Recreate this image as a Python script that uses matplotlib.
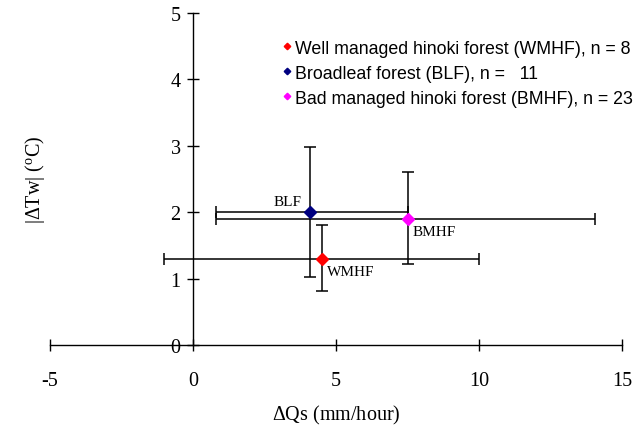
import matplotlib
matplotlib.use("Agg")
import matplotlib.pyplot as plt

plt.rcParams['font.family'] = ['Liberation Serif', 'DejaVu Serif']
plt.rcParams['mathtext.fontset'] = 'custom'
plt.rcParams['mathtext.rm'] = 'Liberation Serif'
plt.rcParams['mathtext.it'] = 'Liberation Serif:italic'

# Data
labels = ["WMHF", "BLF", "BMHF"]
legend_labels = ["Well managed hinoki forest (WMHF), n = 8",
                 "Broadleaf forest (BLF), n =   11",
                 "Bad managed hinoki forest (BMHF), n = 23"]
colors = ["#ff0000", "#000080", "#ff00ff"]
dQs = [4.5, 4.1, 7.5]
dTw = [1.3, 2.0, 1.9]
x_low = [-1.0, 0.8, 0.8]
x_high = [10.0, 7.5, 14.05]
y_low = [0.82, 1.03, 1.22]
y_high = [1.81, 2.98, 2.61]
xticks = [-5, 0, 5, 10, 15]
yticks = [0, 1, 2, 3, 4, 5]

fig = plt.figure(figsize=(6.39, 4.31), dpi=100)
ax = fig.add_axes([50/639, 85/431, 572/639, 332/431])

sans = 'Liberation Sans'

for s in ['top', 'right']:
    ax.spines[s].set_visible(False)
ax.spines['left'].set_position(('data', 0))
ax.spines['bottom'].set_position(('data', 0))
ax.spines['left'].set_linewidth(1.0)
ax.spines['bottom'].set_linewidth(1.0)

handles = []
for i in range(3):
    xerr = [[dQs[i] - x_low[i]], [x_high[i] - dQs[i]]]
    yerr = [[dTw[i] - y_low[i]], [y_high[i] - dTw[i]]]
    ax.errorbar([dQs[i]], [dTw[i]], xerr=xerr, yerr=yerr, fmt='none',
                ecolor='black', elinewidth=1.1, capsize=4, capthick=1.1, zorder=2)
    h, = ax.plot([dQs[i]], [dTw[i]], linestyle='none', marker='D',
                 markersize=6, color=colors[i], markeredgecolor=colors[i], zorder=3)
    handles.append(h)

# point labels
offsets = {"WMHF": (5, -13, 'left'), "BLF": (-9, 11, 'right'), "BMHF": (5, -13, 'left')}
for i, lab in enumerate(labels):
    dx, dy, ha = offsets[lab]
    ax.annotate(lab, (dQs[i], dTw[i]), xytext=(dx*0.72, dy*0.72), textcoords='offset points',
                ha=ha, va='center', fontsize=11)

ax.set_xlim(-5, 15)
ax.set_ylim(0, 5)
ax.set_xticks(xticks)
ax.set_yticks(yticks)
ax.set_xticklabels([str(t) for t in xticks], fontsize=14.5)
ax.set_yticklabels([str(t) for t in yticks], fontsize=14.5)

ax.tick_params(axis='x', direction='inout', length=8, width=1.0, pad=15)
ax.tick_params(axis='y', direction='inout', length=8, width=1.0, pad=5)

ax.set_xlabel(r'$\Delta$Qs (mm/hour)', fontsize=14.5, labelpad=9)
ax.set_ylabel(r'|$\Delta$Tw| ($^{\rm o}$C)', fontsize=14.5)
ax.yaxis.set_label_coords((47 - 50) / 572, 0.5)

leg = ax.legend(handles, legend_labels, loc='upper left', bbox_to_anchor=(0.405, 0.92),
                frameon=False, prop={'family': sans, 'size': 12.8}, handlelength=0.55,
                handletextpad=0.2, labelspacing=0.45, borderpad=0, borderaxespad=0,
                markerscale=0.55)

fig.savefig("out.png", dpi=100)
